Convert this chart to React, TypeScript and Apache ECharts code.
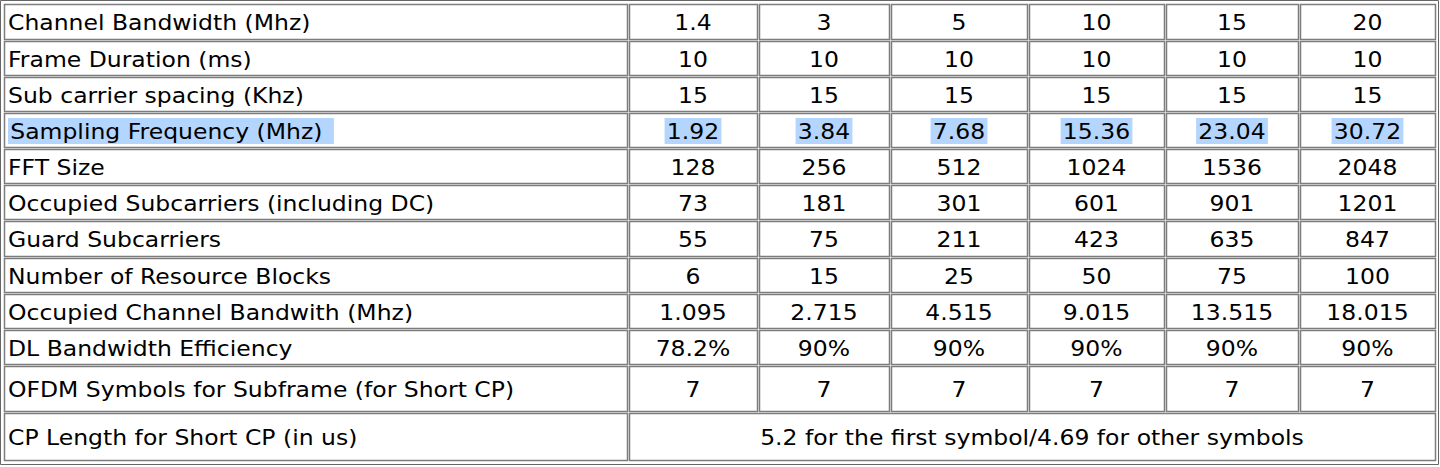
import { useEffect, useRef } from "react"
import * as echarts from "echarts"

// table contents
const rowLabels = [
  "Channel Bandwidth (Mhz)",
  "Frame Duration (ms)",
  "Sub carrier spacing (Khz)",
  "Sampling Frequency (Mhz)",
  "FFT Size",
  "Occupied Subcarriers (including DC)",
  "Guard Subcarriers",
  "Number of Resource Blocks",
  "Occupied Channel Bandwith (Mhz)",
  "DL Bandwidth Efficiency",
  "OFDM Symbols for Subframe (for Short CP)",
  "CP Length for Short CP (in us)",
]
const channelBandwidth = ["1.4", "3", "5", "10", "15", "20"]
const frameDuration = ["10", "10", "10", "10", "10", "10"]
const subcarrierSpacing = ["15", "15", "15", "15", "15", "15"]
const samplingFrequency = ["1.92", "3.84", "7.68", "15.36", "23.04", "30.72"]
const fftSize = ["128", "256", "512", "1024", "1536", "2048"]
const occupiedSubcarriers = ["73", "181", "301", "601", "901", "1201"]
const guardSubcarriers = ["55", "75", "211", "423", "635", "847"]
const resourceBlocks = ["6", "15", "25", "50", "75", "100"]
const occupiedBandwidth = ["1.095", "2.715", "4.515", "9.015", "13.515", "18.015"]
const dlEfficiency = ["78.2%", "90%", "90%", "90%", "90%", "90%"]
const ofdmSymbols = ["7", "7", "7", "7", "7", "7"]
const cpLength = "5.2 for the first symbol/4.69 for other symbols"

const rowValues = [
  channelBandwidth, frameDuration, subcarrierSpacing, samplingFrequency, fftSize,
  occupiedSubcarriers, guardSubcarriers, resourceBlocks, occupiedBandwidth,
  dlEfficiency, ofdmSymbols,
]
const highlightRow = 3

// layout
const colEdges = [3, 628, 758, 890, 1028, 1165, 1299, 1436]
const rowEdges = [3, 40, 76, 112, 148, 184, 220, 257, 293, 329, 365, 412, 461]
const font = '21px "DejaVu Sans", Verdana, sans-serif'
const stretch = 1.12
const selBlue = "#b4d5fe"

export default function App() {
  const chartRef = useRef<HTMLDivElement>(null)

  useEffect(() => {
    document.body.style.margin = "0"
    if (!chartRef.current) return
    const chart = echarts.init(chartRef.current, null, { renderer: "svg" })

    const els: any[] = []
    els.push({
      type: "rect",
      shape: { x: 0.5, y: 0.5, width: 1438, height: 464 },
      style: { fill: "#fff", stroke: "#666", lineWidth: 1 },
    })

    const cell = (x0: number, x1: number, y0: number, y1: number) => {
      els.push({
        type: "rect",
        shape: { x: x0 + 1.5, y: y0 + 1.5, width: x1 - x0 - 2, height: y1 - y0 - 2 },
        style: { fill: "#fff", stroke: "#7d7d7d", lineWidth: 1.5 },
      })
    }
    const text = (str: string, x: number, y: number, align: string, hl: boolean, padR = 2) => {
      els.push({
        type: "text",
        x, y,
        scaleX: stretch,
        style: {
          text: str, font, fill: "#000", align, verticalAlign: "middle",
          backgroundColor: hl ? selBlue : undefined,
          padding: hl ? [3, padR, 2, 2] : 0,
        },
      })
    }

    rowLabels.forEach((label, r) => {
      const y0 = rowEdges[r], y1 = rowEdges[r + 1]
      const cy = (y0 + y1) / 2 + 1
      const hl = r === highlightRow
      cell(colEdges[0], colEdges[1], y0, y1)
      text(label, 8, cy, "left", hl, 10)
      if (r < rowValues.length) {
        rowValues[r].forEach((v, c) => {
          const x0 = colEdges[c + 1], x1 = colEdges[c + 2]
          cell(x0, x1, y0, y1)
          text(v, (x0 + x1) / 2, cy, "center", hl)
        })
      } else {
        cell(colEdges[1], colEdges[7], y0, y1)
        text(cpLength, (colEdges[1] + colEdges[7]) / 2, cy, "center", false)
      }
    })

    chart.setOption({ animation: false, graphic: { elements: els } })
    return () => chart.dispose()
  }, [])

  return <div ref={chartRef} style={{ width: 1440, height: 467 }} />
}
